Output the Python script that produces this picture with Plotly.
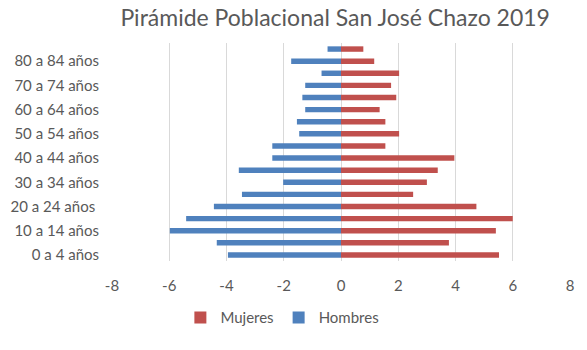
import plotly.graph_objects as go

# Age groups, bottom to top
grupos = [
    "0 a 4 años", "5 a 9 años", "10 a 14 años", "15 a 19 años",
    "20 a 24 años ", "25 a 29 años", "30 a 34 años", "35 a 39 años",
    "40 a 44 años", "45 a 49 años", "50 a 54 años", "55 a 59 años",
    "60 a 64 años", "65 a 69 años", "70 a 74 años", "75 a 79 años",
    "80 a 84 años", "85 años y más",
]

# Percent of population by sex (men drawn to the left as negatives)
mujeres = [5.52, 3.77, 5.41, 6.00, 4.73, 2.52, 3.00, 3.38, 3.96,
           1.55, 2.03, 1.55, 1.35, 1.93, 1.75, 2.03, 1.16, 0.78]
hombres = [-3.95, -4.34, -5.98, -5.41, -4.44, -3.46, -2.02, -3.57, -2.40,
           -2.40, -1.46, -1.54, -1.25, -1.35, -1.25, -0.68, -1.74, -0.47]

ticks_x = [-8, -6, -4, -2, 0, 2, 4, 6, 8]

gris = "#595959"
fuente = "Lato, 'Open Sans', sans-serif"

fig = go.Figure()
fig.add_trace(go.Bar(
    y=grupos, x=mujeres, orientation="h", name="Mujeres",
    marker=dict(color="#C0504D", line=dict(width=0)),
))
fig.add_trace(go.Bar(
    y=grupos, x=hombres, orientation="h", name="Hombres",
    marker=dict(color="#4F81BD", line=dict(width=0)),
))

fig.update_layout(
    width=587, height=350,
    barmode="overlay", bargap=0.55,
    paper_bgcolor="white", plot_bgcolor="white",
    margin=dict(l=112, r=17, t=43, b=89),
    font=dict(family=fuente, color=gris, size=14),
    title=dict(
        text="Pirámide Poblacional San José Chazo 2019",
        font=dict(family=fuente, size=23, color=gris),
        x=0.571, xref="container", xanchor="center",
        y=0.949, yref="container", yanchor="middle",
    ),
    xaxis=dict(
        range=[-8, 8], tickvals=ticks_x,
        ticktext=[str(v) for v in ticks_x],
        showgrid=True, gridcolor="#D9D9D9", gridwidth=1,
        zeroline=True, zerolinecolor="#D9D9D9", zerolinewidth=1,
        showline=False, ticks="", ticklen=0,
        ticklabelstandoff=14,
        tickfont=dict(size=15, color=gris),
    ),
    yaxis=dict(
        type="category", categoryorder="array", categoryarray=grupos,
        tickvals=grupos[::2], ticktext=grupos[::2],
        showgrid=False, showline=False, ticks="",
        ticklabelstandoff=12,
        tickfont=dict(size=15, color=gris),
    ),
    legend=dict(
        orientation="h", x=0.372, xanchor="center",
        y=-0.26, yanchor="middle",
        font=dict(size=15, color=gris),
        traceorder="normal",
    ),
)

fig.write_html("out.html")
